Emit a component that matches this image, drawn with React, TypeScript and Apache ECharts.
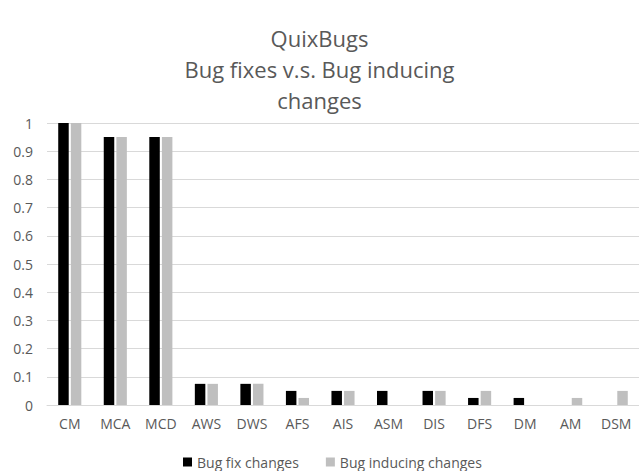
import React, { useEffect, useRef } from "react";
import * as echarts from "echarts";

const categories = ["CM", "MCA", "MCD", "AWS", "DWS", "AFS", "AIS", "ASM", "DIS", "DFS", "DM", "AM", "DSM"];
const bugFix = [1, 0.95, 0.95, 0.075, 0.075, 0.05, 0.05, 0.05, 0.05, 0.025, 0.025, 0, 0];
const bugInducing = [1, 0.95, 0.95, 0.075, 0.075, 0.025, 0.05, 0, 0.05, 0.05, 0, 0.025, 0.05];
const yTicks = [0, 0.1, 0.2, 0.3, 0.4, 0.5, 0.6, 0.7, 0.8, 0.9, 1];

const FONT = "'Open Sans', 'Liberation Sans', sans-serif";
const TXT = "#595959";

export default function App() {
  const ref = useRef<HTMLDivElement>(null);
  useEffect(() => {
    if (!ref.current) return;
    const chart = echarts.init(ref.current, undefined, { renderer: "svg" });
    chart.setOption({
      animation: false,
      backgroundColor: "#ffffff",
      title: {
        text: "QuixBugs\nBug fixes v.s. Bug inducing\nchanges",
        left: "center",
        top: 17,
        textStyle: { fontFamily: FONT, fontSize: 22, fontWeight: "normal", color: TXT, lineHeight: 31 },
      },
      legend: {
        top: 455,
        left: 183,
        padding: 0,
        itemWidth: 9,
        itemHeight: 9,
        itemGap: 27,
        icon: "rect",
        textStyle: { fontFamily: FONT, fontSize: 14, color: TXT },
        data: ["Bug fix changes", "Bug inducing changes"],
      },
      grid: { left: 47, width: 594, top: 123, bottom: 66 },
      xAxis: {
        type: "category",
        data: categories,
        axisLine: { lineStyle: { color: "#d9d9d9" } },
        axisTick: { show: false },
        axisLabel: { fontFamily: FONT, fontSize: 14, color: TXT, margin: 11 },
      },
      yAxis: {
        type: "value",
        min: 0,
        max: 1,
        interval: 0.1,
        axisLine: { show: false },
        axisTick: { show: false },
        splitLine: { lineStyle: { color: "#d9d9d9" } },
        axisLabel: {
          fontFamily: FONT,
          fontSize: 14,
          color: TXT,
          margin: 14,
          formatter: (v: number) => {
            const t = yTicks.find((x) => Math.abs(x - v) < 1e-9);
            return t === undefined ? "" : String(t);
          },
        },
      },
      series: [
        {
          name: "Bug fix changes",
          type: "bar",
          data: bugFix,
          barWidth: 10.5,
          barGap: "20%",
          itemStyle: { color: "#000000" },
        },
        {
          name: "Bug inducing changes",
          type: "bar",
          data: bugInducing,
          barWidth: 10.5,
          barGap: "20%",
          itemStyle: { color: "#bfbfbf" },
        },
      ],
    });
    return () => chart.dispose();
  }, []);
  return (
    <div
      ref={ref}
      style={{ position: "fixed", left: 0, top: 0, width: 639, height: 471 }}
    />
  );
}
